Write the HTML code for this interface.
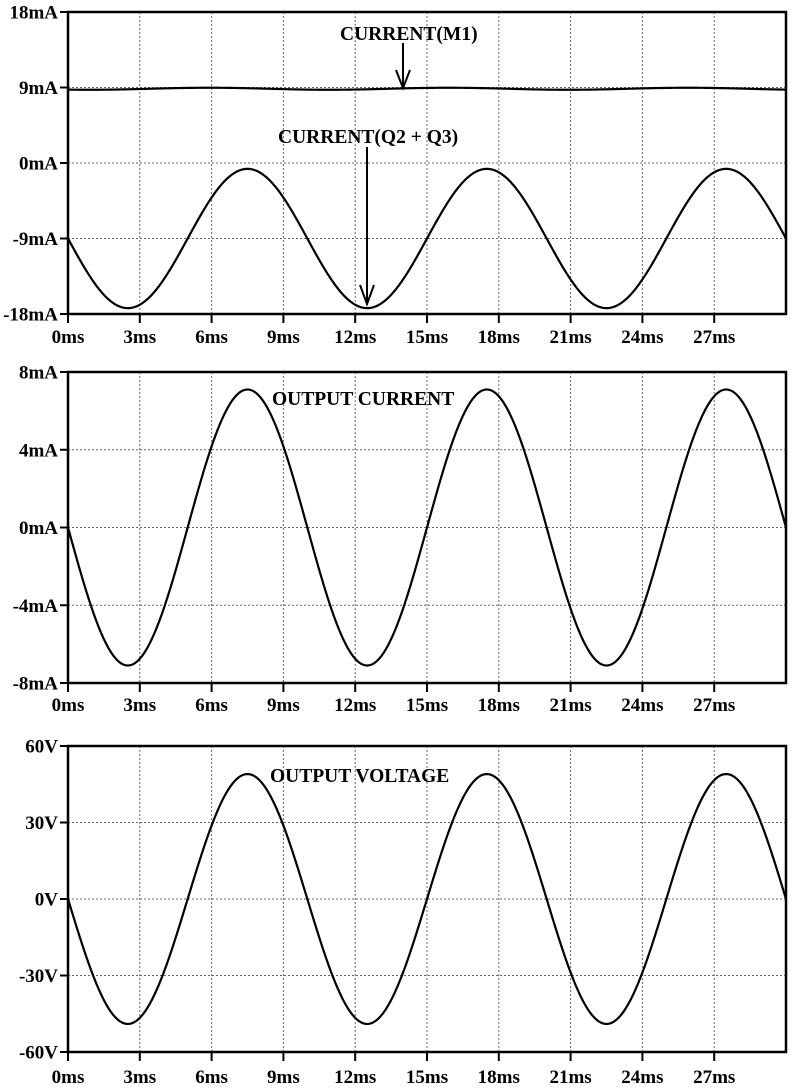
<!DOCTYPE html>
<html><head><meta charset="utf-8"><style>
html,body{margin:0;padding:0;background:#fff;}
svg{display:block;}
text{font-family:"Liberation Serif",serif;font-weight:bold;fill:#000;}
</style></head><body>
<svg id="s" width="800" height="1091" xmlns="http://www.w3.org/2000/svg"></svg>
<script>
const s=document.getElementById('s');
const L=68,R=786,W=R-L;
let h='';
function X(t){return L+t/30*W;}
function plot(top,bot,labels,ylab,fn,tickY){
  const n=labels.length-1, st=(bot-top)/n;
  for(let i=1;i<10;i++){const x=X(i*3);h+=`<line x1="${x}" y1="${top}" x2="${x}" y2="${bot}" stroke="#666" stroke-width="1" stroke-dasharray="2,2"/>`;}
  for(let j=1;j<n;j++){const y=top+j*st;h+=`<line x1="${L}" y1="${y}" x2="${R}" y2="${y}" stroke="#666" stroke-width="1" stroke-dasharray="2,2"/>`;}
  h+=`<rect x="${L}" y="${top}" width="${W}" height="${bot-top}" fill="none" stroke="#000" stroke-width="2.5"/>`;
  for(let j=0;j<=n;j++){const y=top+j*st;h+=`<line x1="${L-8}" y1="${y}" x2="${L}" y2="${y}" stroke="#000" stroke-width="2"/>`;
    h+=`<text x="${L-10}" y="${y+6.5}" font-size="19" text-anchor="end">${labels[j]}</text>`;}
  for(let i=0;i<10;i++){const x=X(i*3);h+=`<line x1="${x}" y1="${bot}" x2="${x}" y2="${bot+9}" stroke="#000" stroke-width="2"/>`;
    h+=`<text x="${x}" y="${tickY}" font-size="19" text-anchor="middle">${i*3}ms</text>`;}
  for(const f of fn){
    let d='';
    for(let k=0;k<=600;k++){const t=k/20;const v=f(t);const y=top+(ylab[0]-v)/(ylab[0]-ylab[1])*(bot-top);d+=(k?'L':'M')+X(t).toFixed(2)+','+y.toFixed(2);}
    h+=`<path d="${d}" fill="none" stroke="#000" stroke-width="2.2"/>`;
  }
}
const S=t=>Math.sin(2*Math.PI*t/10);
plot(12,314,['18mA','9mA','0mA','-9mA','-18mA'],[18,-18],[t=>8.85-0.12*Math.sin(2*Math.PI*t/10+1),t=>-9-8.3*S(t)],343);
plot(372,683,['8mA','4mA','0mA','-4mA','-8mA'],[8,-8],[t=>-7.1*S(t)],711);
plot(746,1052,['60V','30V','0V','-30V','-60V'],[60,-60],[t=>-49*S(t)],1083);
h+=`<text x="340" y="40" font-size="19.5">CURRENT(M1)</text>`;
h+=`<line x1="403" y1="43" x2="403" y2="86" stroke="#000" stroke-width="2"/><path d="M396,70 L403,88 L410,70" fill="none" stroke="#000" stroke-width="2"/>`;
h+=`<text x="278" y="143" font-size="19.5">CURRENT(Q2 + Q3)</text>`;
h+=`<line x1="367" y1="147" x2="367" y2="303" stroke="#000" stroke-width="2"/><path d="M360,285 L367,304 L374,285" fill="none" stroke="#000" stroke-width="2"/>`;
h+=`<text x="272" y="405" font-size="19.5">OUTPUT CURRENT</text>`;
h+=`<text x="270" y="782" font-size="19.5">OUTPUT VOLTAGE</text>`;
s.innerHTML=h;
</script>
</body></html>
